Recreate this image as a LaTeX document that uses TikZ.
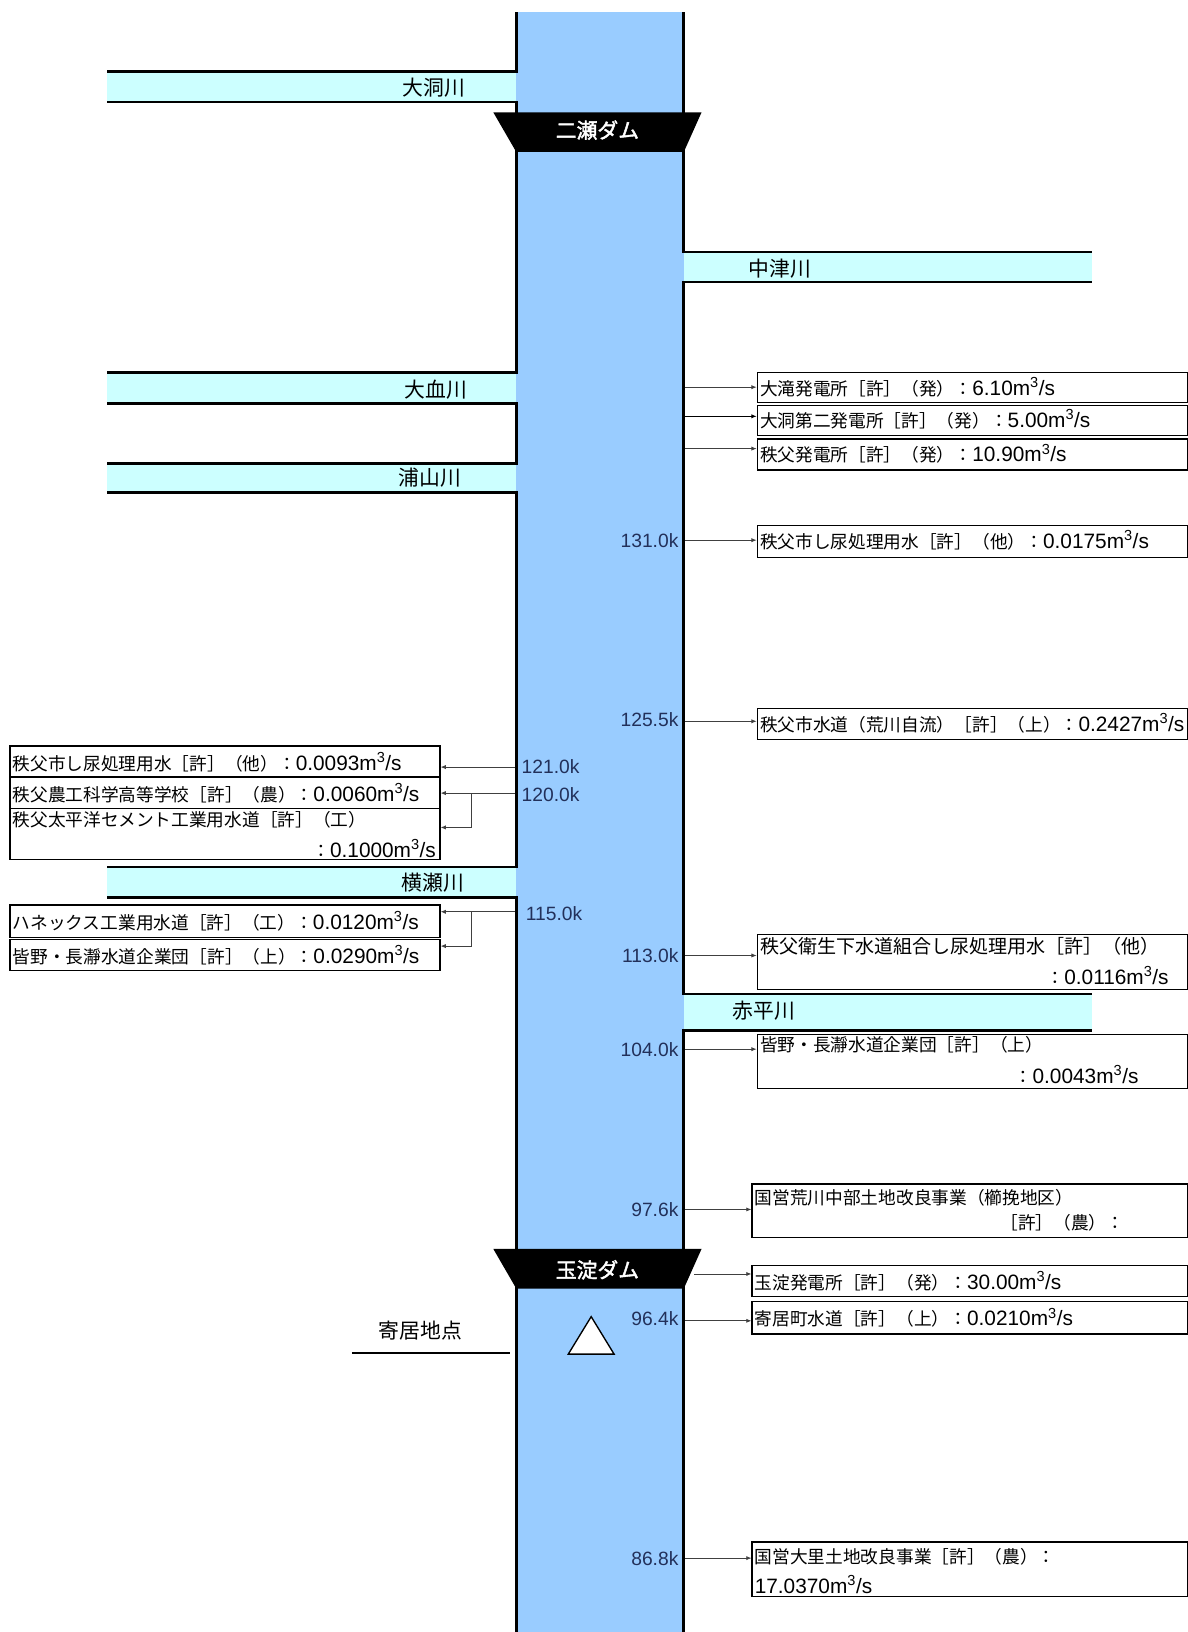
\documentclass[tikz,border=0pt]{standalone}
\usepackage{fontspec}
\setmainfont{Noto Sans CJK JP}[AutoFakeBold=2]
\newfontfamily\lat{Liberation Sans}
\usetikzlibrary{arrows.meta}
\definecolor{riverblue}{HTML}{99CCFF}
\definecolor{tribcyan}{HTML}{CCFFFF}
\definecolor{kmcol}{HTML}{22305A}
\newcommand{\cub}[1]{{\lat\fontsize{20}{22}\selectfont #1m\textsuperscript{3}/s}}
\begin{document}
\begin{tikzpicture}[x=1pt,y=-1pt,
  bank/.style={line width=2.6pt},
  trib/.style={fill=tribcyan},
  wbox/.style={draw, line width=1.3pt, fill=white, inner sep=0pt, anchor=north west},
  btext/.style={font=\fontsize{17}{20}\selectfont, inner sep=0pt},
  km/.style={font=\lat\fontsize{18.5}{20}\selectfont, text=kmcol, inner sep=0pt},
  arr/.style={-{Latex[length=5pt,width=4pt]}, line width=0.8pt, black!75},
  tlabel/.style={font=\fontsize{20}{22}\selectfont, inner sep=0pt},
  damlabel/.style={font=\bfseries\fontsize{20}{22}\selectfont, text=white, inner sep=0pt}]
\fill[white] (0,0) rectangle (1141,1568);
\useasboundingbox (0,0) rectangle (1141,1568);
% main river
\fill[riverblue] (496,12) rectangle (657,1568);
% tributaries
\fill[trib] (103,69) rectangle (496,98);
\fill[trib] (103,358) rectangle (496,388);
\fill[trib] (103,445) rectangle (496,473);
\fill[trib] (103,833) rectangle (496,862);
\fill[trib] (657,242) rectangle (1049,271);
\fill[trib] (657,955) rectangle (1049,990);
% banks
\draw[bank] (496,12) -- (496,69) -- (103,69);
\draw[bank] (103,98) -- (496,98) -- (496,358) -- (103,358);
\draw[bank] (103,388) -- (496,388) -- (496,445) -- (103,445);
\draw[bank] (103,473) -- (496,473) -- (496,833) -- (103,833);
\draw[bank] (103,862) -- (496,862) -- (496,1568);
\draw[bank] (657,12) -- (657,242) -- (1049,242);
\draw[bank] (1049,271) -- (657,271) -- (657,955) -- (1049,955);
\draw[bank] (1049,990) -- (657,990) -- (657,1568);
% tributary names
\node[tlabel, anchor=east] (n1) at (447,84) {大洞川};
\node[tlabel, anchor=east] (n2) at (449,374) {大血川};
\node[tlabel, anchor=east] (n3) at (443,459) {浦山川};
\node[tlabel, anchor=east] (n4) at (446,848) {横瀬川};
\node[tlabel, anchor=west] (n5) at (719,258) {中津川};
\node[tlabel, anchor=west] (n6) at (704,971) {赤平川};
% dams
\fill (474,108) -- (674,108) -- (657,146) -- (496,146) -- cycle;
\node[damlabel] (d1) at (574,125) {二瀬ダム};
\fill (474,1200) -- (674,1200) -- (657,1238) -- (496,1238) -- cycle;
\node[damlabel] (d2) at (574,1220) {玉淀ダム};
% gauge
\draw[line width=1.3pt, fill=white] (568,1265) -- (590,1301) -- (546,1301) -- cycle;
\node[tlabel] (g1) at (404,1278) {寄居地点};
\coordinate (gl1) at (338,1300);
\coordinate (gl2) at (490,1300);
\draw[line width=1.3pt] (gl1) -- (gl2);
% right boxes
\node[wbox, minimum width=413pt, minimum height=29pt] (r1) at (727,357) {};
\node[wbox, minimum width=413pt, minimum height=29pt] (r2) at (727,389) {};
\node[wbox, minimum width=413pt, minimum height=30pt] (r3) at (727,421) {};
\node[wbox, minimum width=413pt, minimum height=31pt] (r4) at (727,504) {};
\node[wbox, minimum width=413pt, minimum height=30pt] (r5) at (727,680) {};
\node[wbox, minimum width=413pt, minimum height=53pt] (r6) at (727,897) {};
\node[wbox, minimum width=413pt, minimum height=52pt] (r7) at (727,993) {};
\node[wbox, minimum width=418pt, minimum height=51pt] (r8) at (722,1137) {};
\node[wbox, minimum width=418pt, minimum height=30pt] (r9) at (722,1215) {};
\node[wbox, minimum width=418pt, minimum height=31pt] (r10) at (722,1250) {};
\node[wbox, minimum width=418pt, minimum height=52pt] (r11) at (722,1481) {};
\node[btext, anchor=west] (t1) at (730,372) {大滝発電所［許］（発）：\cub{6.10}};
\node[btext, anchor=west] (t2) at (730,403) {大洞第二発電所［許］（発）：\cub{5.00}};
\node[btext, anchor=west] (t3) at (730,436) {秩父発電所［許］（発）：\cub{10.90}};
\node[btext, anchor=west] (t4) at (730,519) {秩父市し尿処理用水［許］（他）：\cub{0.0175}};
\node[btext, anchor=west] (t5) at (730,695) {秩父市水道（荒川自流）［許］（上）：\cub{0.2427}};
\node[btext, anchor=west, font=\fontsize{18.3}{20}\selectfont] (t6a) at (730,909) {秩父衛生下水道組合し尿処理用水［許］（他）};
\node[btext, anchor=east] (t6b) at (1123,937) {：\cub{0.0116}};
\node[btext, anchor=west] (t7a) at (730,1004) {皆野・長瀞水道企業団［許］（上）};
\node[btext, anchor=east] (t7b) at (1094,1032) {：\cub{0.0043}};
\node[btext, anchor=west] (t8a) at (725,1151) {国営荒川中部土地改良事業（櫛挽地区）};
\node[btext, anchor=west] (t8b) at (961,1175) {［許］（農）：};
\node[btext, anchor=west] (t9) at (725,1231) {玉淀発電所［許］（発）：\cub{30.00}};
\node[btext, anchor=west] (t10) at (725,1266) {寄居町水道［許］（上）：\cub{0.0210}};
\node[btext, anchor=west] (t11a) at (725,1496) {国営大里土地改良事業［許］（農）：};
\node[btext, anchor=west] (t11b) at (725,1522) {\cub{17.0370}};
% left boxes
\node[wbox, minimum width=413pt, minimum height=30pt] (l1) at (9,716) {};
\node[wbox, minimum width=413pt, minimum height=30pt] (l2) at (9,746) {};
\node[wbox, minimum width=413pt, minimum height=49pt] (l3) at (9,776) {};
\node[wbox, minimum width=413pt, minimum height=31pt] (l4) at (9,869) {};
\node[wbox, minimum width=413pt, minimum height=30pt] (l5) at (9,902) {};
\node[btext, anchor=west] (u1) at (12,732) {秩父市し尿処理用水［許］（他）：\cub{0.0093}};
\node[btext, anchor=west] (u2) at (12,762) {秩父農工科学高等学校［許］（農）：\cub{0.0060}};
\node[btext, anchor=west] (u3a) at (12,788) {秩父太平洋セメント工業用水道［許］（工）};
\node[btext, anchor=east] (u3b) at (419,815) {：\cub{0.1000}};
\node[btext, anchor=west] (u4) at (12,885) {ハネックス工業用水道［許］（工）：\cub{0.0120}};
\node[btext, anchor=west] (u5) at (12,918) {皆野・長瀞水道企業団［許］（上）：\cub{0.0290}};
% km labels
\node[km, anchor=east] (k131) at (652,519) {131.0k};
\node[km, anchor=east] (k125) at (652,691) {125.5k};
\node[km, anchor=west] (k121) at (501,737) {121.0k};
\node[km, anchor=west] (k120) at (501,763) {120.0k};
\node[km, anchor=west] (k115) at (505,878) {115.0k};
\node[km, anchor=east] (k113) at (652,918) {113.0k};
\node[km, anchor=east] (k104) at (652,1008) {104.0k};
\node[km, anchor=east] (k97) at (652,1162) {97.6k};
\node[km, anchor=east] (k96) at (652,1267) {96.4k};
\node[km, anchor=east] (k86) at (652,1497) {86.8k};
% arrows right
\coordinate (s1) at (658,372);
\coordinate (s2) at (658,400);
\coordinate (s3) at (658,431);
\coordinate (s4) at (658,519);
\coordinate (s5) at (658,693);
\coordinate (s6) at (658,918);
\coordinate (s7) at (658,1008);
\coordinate (s8) at (658,1162);
\coordinate (s9) at (667,1224);
\coordinate (s10) at (658,1269);
\coordinate (s11) at (658,1497);
\draw[arr] (s1) -- (s1 -| r1.west);
\draw[arr, black] (s2) -- (s2 -| r2.west);
\draw[arr] (s3) -- (s3 -| r3.west);
\draw[arr] (s4) -- (s4 -| r4.west);
\draw[arr] (s5) -- (s5 -| r5.west);
\draw[arr] (s6) -- (s6 -| r6.west);
\draw[arr] (s7) -- (s7 -| r7.west);
\draw[arr] (s8) -- (s8 -| r8.west);
\draw[arr] (s9) -- (s9 -| r9.west);
\draw[arr] (s10) -- (s10 -| r10.west);
\draw[arr] (s11) -- (s11 -| r11.west);
% arrows left
\coordinate (p1) at (495,737);
\coordinate (p2) at (495,762);
\coordinate (j2) at (453,762);
\coordinate (e2) at (453,795);
\coordinate (p4) at (495,876);
\coordinate (j4) at (453,876);
\coordinate (e4) at (453,909);
\draw[arr] (p1) -- (p1 -| l1.east);
\draw[arr] (p2) -- (p2 -| l2.east);
\draw[arr] (j2) -- (e2) -- (e2 -| l3.east);
\draw[arr] (p4) -- (p4 -| l4.east);
\draw[arr] (j4) -- (e4) -- (e4 -| l5.east);
\end{tikzpicture}
\end{document}
